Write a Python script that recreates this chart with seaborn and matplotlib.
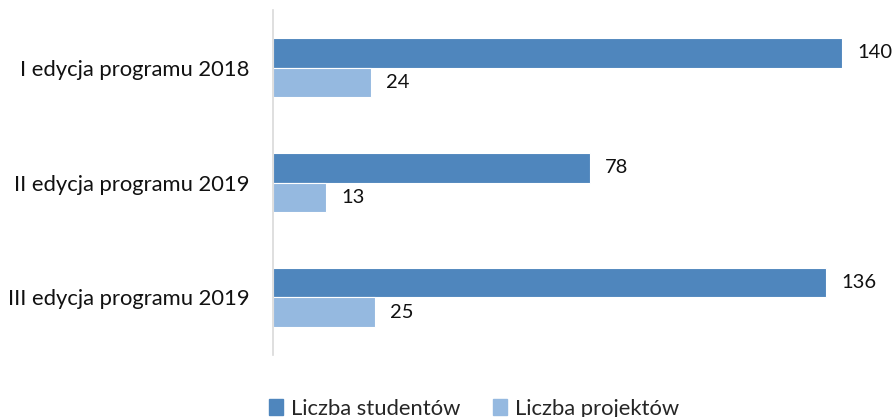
import pandas as pd
import seaborn as sns
import matplotlib.pyplot as plt

sns.set_theme(style="white")
plt.rcParams['font.family'] = ['Lato', 'DejaVu Sans']

# data
editions = ["I edycja programu 2018", "II edycja programu 2019", "III edycja programu 2019"]
students = [140, 78, 136]
projects = [24, 13, 25]
series = ["Liczba studentów", "Liczba projektów"]
colors = ["#4F86BD", "#95B9E0"]

df = pd.DataFrame({
    "edycja": editions * 2,
    "wartosc": students + projects,
    "seria": [series[0]] * 3 + [series[1]] * 3,
})

fig = plt.figure(figsize=(8.96, 4.17), dpi=100)
ax = fig.add_axes([0.3047, 0.1487, 0.6350, 0.8273])

sns.barplot(data=df, y="edycja", x="wartosc", hue="seria", order=editions,
            hue_order=series, palette=colors, width=0.52, saturation=1,
            edgecolor="white", linewidth=0.8, ax=ax, legend=False)

for cont in ax.containers:
    ax.bar_label(cont, padding=11, fontsize=14.5, color="#111111")

ax.set_xlim(0, 140)
ax.set_ylim(2.5, -0.5)
ax.set_xlabel("")
ax.set_ylabel("")
ax.set_xticks([])
ax.tick_params(axis="y", length=0, pad=17, labelsize=15.8, labelcolor="#111111")
for side in ["top", "right", "bottom"]:
    ax.spines[side].set_visible(False)
ax.spines["left"].set_color("#D9D9D9")
ax.spines["left"].set_linewidth(1.2)

handles = [plt.Rectangle((0, 0), 1, 1, color=c) for c in colors]
fig.legend(handles, series, loc="center", bbox_to_anchor=(0.529, 0.02),
           ncol=2, frameon=False, fontsize=15.8, handlelength=0.65,
           handleheight=0.7, handletextpad=0.35, columnspacing=1.5)

fig.savefig("out.png", dpi=100)
